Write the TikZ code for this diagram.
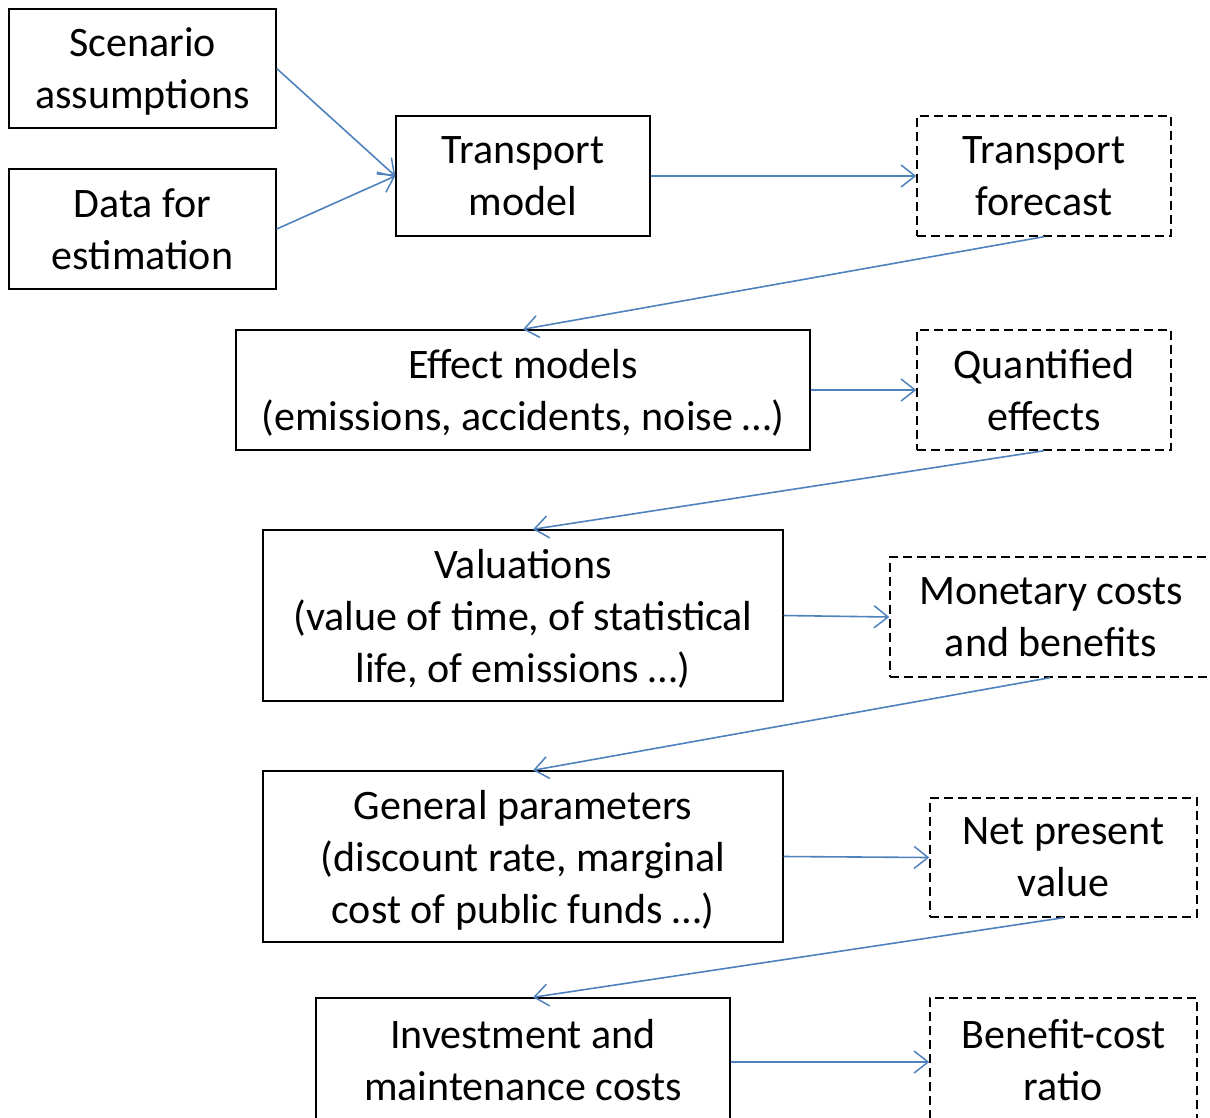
\documentclass[tikz,border=0pt]{standalone}
\usepackage{fontspec}
\setmainfont{Carlito}
\usepackage{tikz}
\usetikzlibrary{arrows.meta}
\usepackage{xcolor}
\definecolor{flowblue}{HTML}{4F81BD}

\begin{document}
\begin{tikzpicture}[x=1pt,y=-1pt,
    box/.style={rectangle, draw=black, line width=1.4pt, inner sep=0pt, align=center,
                font=\fontsize{42}{52}\selectfont, text depth=-4pt},
    outbox/.style={box, dash pattern=on 9pt off 5pt},
    flow/.style={draw=flowblue, line width=1.6pt, -{Straight Barb[length=14pt,width=22pt,line width=1.5pt]}}]
          % Variables
          \def \midx  {523}
          \def \outx  {1044}
          \def \hitx  {10}

          % Frame
          \useasboundingbox (0,0) rectangle (1210,1117);

          % Inputs
          \node[box, minimum width=267pt, minimum height=119pt] (scen) at (142.5,68.5) {Scenario\\assumptions};
          \node[box, minimum width=267pt, minimum height=120pt] (data) at (142.5,229) {Data for\\estimation};

          % Models (left column)
          \node[box, minimum width=254pt, minimum height=120pt] (tmod) at (\midx,176) {Transport\\model};
          \node[box, minimum width=574pt, minimum height=120pt] (effm) at (\midx,390) {Effect models\\(emissions, accidents, noise …)};
          \node[box, minimum width=520pt, minimum height=171pt] (valu) at (\midx,615.5) {Valuations\\(value of time, of statistical\\life, of emissions …)};
          \node[box, minimum width=520pt, minimum height=171pt] (genp) at (\midx,856.5) {General parameters\\(discount rate, marginal\\cost of public funds …)};
          \node[box, minimum width=414pt, minimum height=124pt] (invc) at (\midx,1060) {Investment and\\maintenance costs};

          % Results (right column)
          \node[outbox, minimum width=254pt, minimum height=120pt] (tfor) at (\outx,176) {Transport\\forecast};
          \node[outbox, minimum width=254pt, minimum height=120pt] (qeff) at (\outx,390) {Quantified\\effects};
          \node[outbox, minimum width=322pt, minimum height=120pt] (mcb)  at (1051,617) {Monetary costs\\and benefits};
          \node[outbox, minimum width=267pt, minimum height=119pt] (npv)  at (1063.5,857.5) {Net present\\value};
          \node[outbox, minimum width=267pt, minimum height=124pt] (bcr)  at (1063.5,1060) {Benefit-cost\\ratio};

          % Arrows
          \draw[flow] (scen.east) -- (tmod.west);
          \draw[flow] (data.east) -- (tmod.west);
          \draw[flow] (tmod.east) -- (tfor.west);
          \draw[flow] (tfor.south) -- (effm.north);
          \draw[flow] (effm.east) -- (qeff.west);
          \draw[flow] (qeff.south) -- ([xshift=\hitx pt]valu.north);
          \draw[flow] (valu.east) -- (mcb.west);
          \draw[flow] ([xshift=-1pt]mcb.south) -- ([xshift=\hitx pt]genp.north);
          \draw[flow] (genp.east) -- (npv.west);
          \draw[flow] (npv.south) -- ([xshift=\hitx pt]invc.north);
          \draw[flow] ([yshift=-2pt]invc.east) -- ([yshift=-2pt]bcr.west);

        \end{tikzpicture}
\end{document}
